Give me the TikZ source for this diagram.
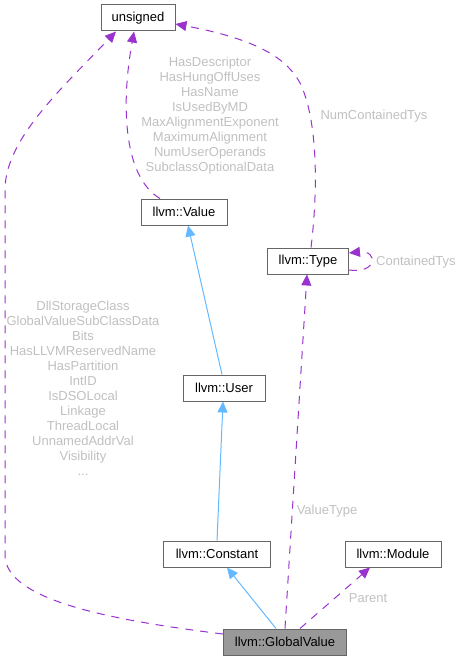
\documentclass[tikz,border=0pt]{standalone}
\usepackage{fontspec}
\setmainfont{Liberation Sans}
\usetikzlibrary{arrows.meta}
\definecolor{boxline}{HTML}{666666}
\definecolor{gvfill}{HTML}{999999}
\definecolor{usecol}{HTML}{9A32CD}
\definecolor{inhcol}{HTML}{63B8FF}
\definecolor{lblcol}{HTML}{C0C0C0}
\tikzset{
  cls/.style={draw=boxline, line width=1pt, fill=white, inner sep=0pt,
    minimum height=26pt, font=\fontsize{13}{15}\selectfont, text=black},
  uses/.style={draw=usecol, line width=1pt, dash pattern=on 8pt off 7pt,
    -{Triangle[length=11pt,width=10pt,fill=usecol]}},
  inh/.style={draw=inhcol, line width=1pt,
    -{Triangle[length=11pt,width=10pt,fill=inhcol]}},
  lbl/.style={text=lblcol, inner sep=0pt, align=center,
    font=\fontsize{13}{15}\selectfont}
}
\begin{document}
\begin{tikzpicture}[x=1pt,y=-1pt]
\useasboundingbox (0,0) rectangle (462,661);
\node[cls, minimum width=74pt] (unsigned) at (138,18) {unsigned};
\node[cls, minimum width=86pt] (value) at (184,212) {llvm::Value};
\node[cls, minimum width=81pt] (type) at (308,261) {llvm::Type};
\node[cls, minimum width=82pt] (user) at (224,388) {llvm::User};
\node[cls, minimum width=107pt] (const) at (217,554) {llvm::Constant};
\node[cls, minimum width=96pt] (module) at (393,554) {llvm::Module};
\node[cls, minimum width=123pt, fill=gvfill] (gv) at (285,642) {llvm::GlobalValue};

% inheritance
\draw[inh] ([xshift=-2pt]user.north) -- ([xshift=4pt]value.south);
\draw[inh] (const.north) -- ([xshift=-1pt]user.south);
\draw[inh] ([xshift=-9pt]gv.north) -- ([xshift=10pt]const.south);

% usage
\draw[uses] ([xshift=15pt]gv.north) -- ([xshift=-23pt]module.south);
\draw[uses] (gv.north) -- ([xshift=-1pt]type.south);
\draw[uses] ([xshift=3pt]type.north) .. controls (318,190) and (318,120) .. (300,83)
  .. controls (285,55) and (250,38) .. ([yshift=-6pt]unsigned.east);
\draw[uses] ([yshift=-9pt]type.east) .. controls (378,274) and (378,250) .. ([yshift=8pt]type.east);
\draw[uses] ([xshift=-24pt]value.north) .. controls (125,178) and (120,110) .. ([xshift=-4pt]unsigned.south);
\draw[uses] ([yshift=8pt]gv.west) .. controls (110,620) and (5,600) .. (5,555)
  -- (5,190) .. controls (5,140) and (60,90) .. ([xshift=-22pt]unsigned.south);

% labels
\node[lbl, anchor=north] (lvalue) at (210,57) {HasDescriptor\\HasHungOffUses\\HasName\\IsUsedByMD\\MaxAlignmentExponent\\MaximumAlignment\\NumUserOperands\\SubclassOptionalData};
\node[lbl, anchor=north] (lgv) at (83,301) {DllStorageClass\\GlobalValueSubClassData\\Bits\\HasLLVMReservedName\\HasPartition\\IntID\\IsDSOLocal\\Linkage\\ThreadLocal\\UnnamedAddrVal\\Visibility\\...};
\node[lbl] (lnum) at (374,116) {NumContainedTys};
\node[lbl, anchor=west] (lcont) at (376,262) {ContainedTys};
\node[lbl] (lvt) at (327,511) {ValueType};
\node[lbl] (lpar) at (368,598) {Parent};
\end{tikzpicture}
\end{document}
